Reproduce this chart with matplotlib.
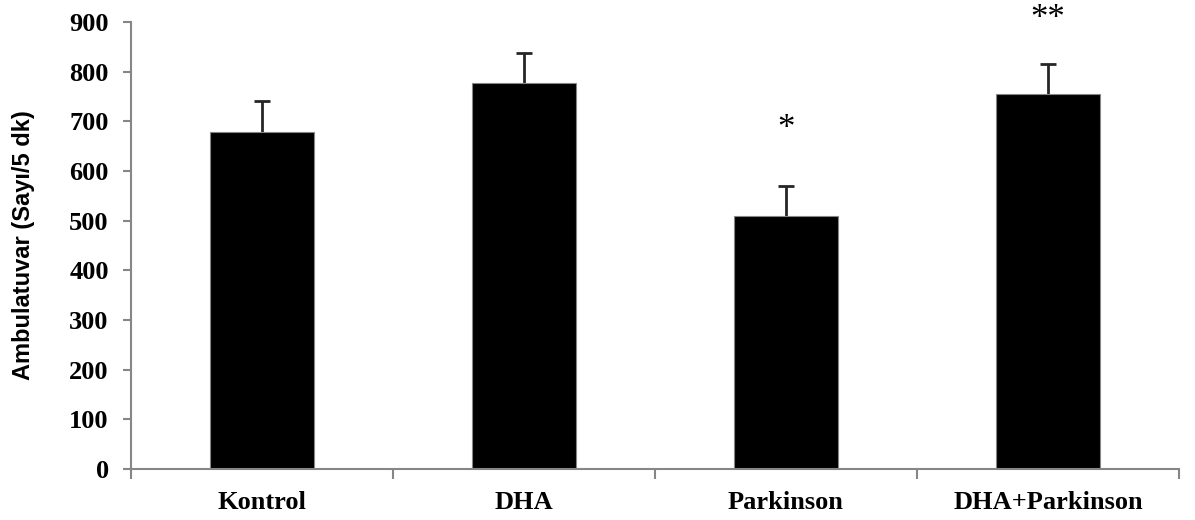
import matplotlib
matplotlib.use("Agg")
import matplotlib.pyplot as plt
import numpy as np

# ---- data ----
groups = ["Kontrol", "DHA", "Parkinson", "DHA+Parkinson"]
means = [679, 777, 510, 755]
sems = [62, 61, 60, 61]
stars = ["", "", "*", "**"]
star_y = [0, 0, 667, 888]
yticks = [0, 100, 200, 300, 400, 500, 600, 700, 800, 900]

GRAY = "#868686"
SERIF = "Liberation Serif"

fig = plt.figure(figsize=(11.95, 5.2), dpi=100)
ax = fig.add_axes([0.1096, 0.098, 0.8770, 0.8597])

x = np.arange(len(groups))
ax.bar(x, means, width=0.4, color="black", edgecolor=GRAY, linewidth=0.8, zorder=2)
# symmetric bars drawn behind the columns, so only the upper half shows
ax.errorbar(x, means, yerr=sems, fmt="none",
            ecolor="#262626", elinewidth=2, capsize=6, capthick=2, zorder=1)

for xi, s, sy in zip(x, stars, star_y):
    if s:
        ax.text(xi, sy, s, ha="center", va="baseline", fontsize=25,
                family=SERIF, clip_on=False)

ax.set_xlim(-0.5, len(groups) - 0.5)
ax.set_ylim(0, 900)
ax.set_yticks(yticks)
ax.set_yticklabels([str(v) for v in yticks], family=SERIF, fontweight="bold", fontsize=19)
ax.set_xticks(x)
ax.set_xticklabels(groups, family=SERIF, fontweight="bold", fontsize=19)
ax.tick_params(axis="x", which="major", length=0, pad=16)
ax.set_xticks(np.arange(-0.5, len(groups)), minor=True)
ax.tick_params(axis="x", which="minor", length=7, width=1.5, color=GRAY, direction="out")
ax.tick_params(axis="y", length=6, width=1.5, color=GRAY, direction="out", pad=10)

for side in ["top", "right"]:
    ax.spines[side].set_visible(False)
for side in ["left", "bottom"]:
    ax.spines[side].set_color(GRAY)
    ax.spines[side].set_linewidth(1.5)

ax.set_ylabel("Ambulatuvar (Sayı/5 dk)", family="Liberation Sans", fontweight="bold",
              fontsize=17)
ax.yaxis.set_label_coords(-0.0916, 0.5)

fig.savefig("out.png", dpi=100)
